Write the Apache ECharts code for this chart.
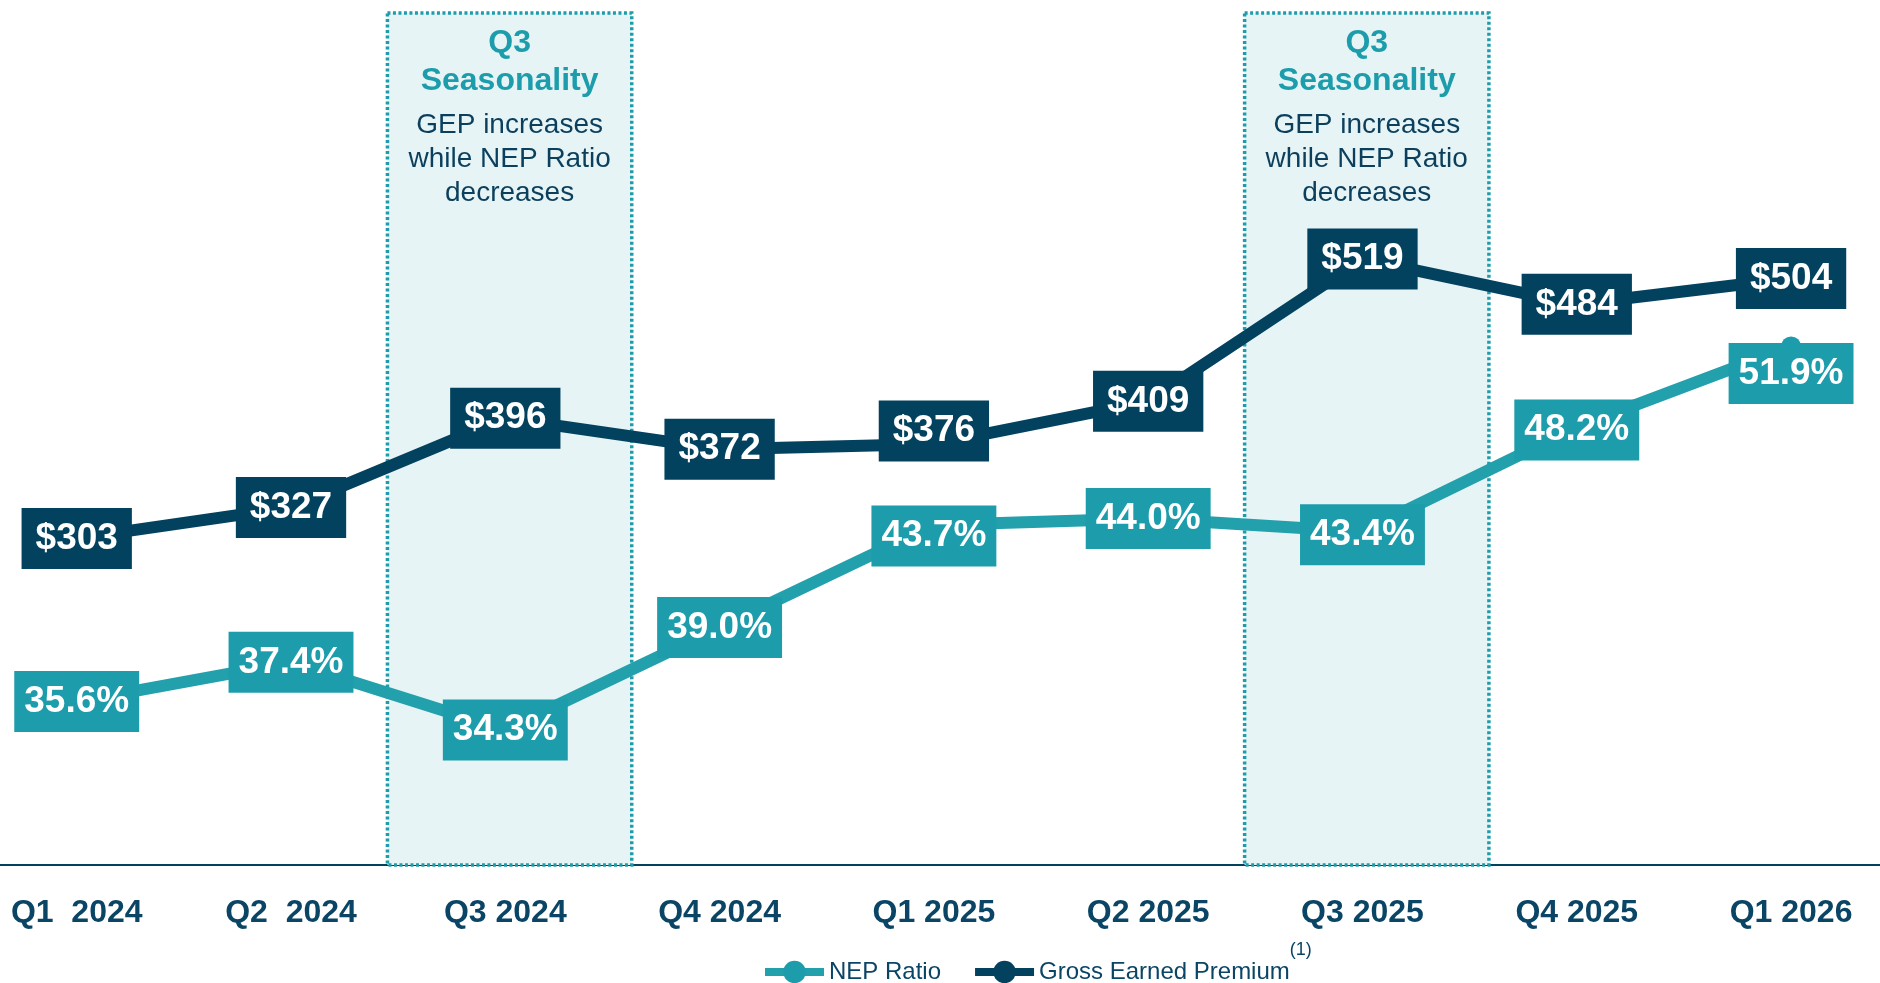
<!DOCTYPE html>
<html>
<head>
<meta charset="utf-8">
<script src="https://cdn.jsdelivr.net/npm/echarts@6/dist/echarts.min.js"></script>
<style>
  html, body { margin: 0; padding: 0; background: #fff; }
  #chart { width: 1880px; height: 983px; }
</style>
</head>
<body>
<div id="chart"></div>
<script>
var quarters = ['Q1  2024', 'Q2  2024', 'Q3 2024', 'Q4 2024', 'Q1 2025', 'Q2 2025', 'Q3 2025', 'Q4 2025', 'Q1 2026'];
var nepRatio = [35.6, 37.4, 34.3, 39.0, 43.7, 44.0, 43.4, 48.2, 51.9];
var grossEarnedPremium = [303, 327, 396, 372, 376, 409, 519, 484, 504];
var seasonalIdx = [2, 6];

var navy = '#03425f';
var teal = '#1d9dab';

// label nudges (px) so boxes sit like in the original slide
var nepNudge = { 4: 11, 6: 3, 7: 3, 8: 27 };
var gepNudge = { 4: -13 };

function pts(vals, nudge) {
  return vals.map(function (v, i) {
    var p = { value: [i, v] };
    if (nudge[i]) p.label = { offset: [0, nudge[i]] };
    return p;
  });
}

// boxes live on the NEP axis (yAxisIndex 1)
var seasonAreas = seasonalIdx.map(function (i) {
  return [
    { xAxis: i - 0.55, yAxis: 67.2 },
    { xAxis: i + 0.59, yAxis: 28.1 }
  ];
});

function init() {
  var chart = echarts.init(document.getElementById('chart'));
  var option = {
    animation: false,
    grid: { left: 0, right: 0, top: 0, bottom: 118 },
    legend: {
      data: ['NEP Ratio', 'Gross Earned Premium'],
      left: 756,
      top: 936,
      itemWidth: 59,
      itemHeight: 28,
      itemGap: 30,
      lineStyle: { width: 8 },
      textStyle: {
        fontFamily: '"Liberation Sans", Arial',
        fontSize: 24,
        color: '#0b4566',
        rich: {
          sup: { fontSize: 18, color: '#0b4566', padding: [0, 0, 44, 0], fontFamily: '"Liberation Sans", Arial' }
        }
      },
      formatter: function (name) {
        return name === 'Gross Earned Premium' ? name + '{sup|(1)}' : name;
      }
    },
    xAxis: {
      type: 'value',
      min: -0.358,
      max: 8.415,
      splitLine: { show: false },
      axisTick: { show: false },
      axisLine: { show: true, lineStyle: { color: navy, width: 2 } },
      axisLabel: {
        customValues: quarters.map(function (q, i) { return i; }),
        formatter: function (v) { return quarters[v]; },
        margin: 32,
        fontFamily: '"Liberation Sans", Arial',
        fontWeight: 'bold',
        fontSize: 32,
        color: '#0b4566'
      }
    },
    yAxis: [
      { type: 'value', min: 50.5, max: 719.3, show: false },
      { type: 'value', min: 28.1, max: 67.8, show: false }
    ],
    series: [
      {
        name: 'NEP Ratio',
        type: 'line',
        yAxisIndex: 1,
        data: pts(nepRatio, nepNudge),
        symbol: 'circle',
        symbolSize: 20,
        color: teal,
        lineStyle: { width: 12, color: '#22a0ab' },
        itemStyle: { color: teal },
        z: 3,
        label: {
          show: true,
          position: 'inside',
          formatter: function (p) { return p.value[1].toFixed(1) + '%'; },
          backgroundColor: teal,
          padding: [12, 10],
          lineHeight: 37,
          color: '#fff',
          fontFamily: '"Liberation Sans", Arial',
          fontWeight: 'bold',
          fontSize: 37
        },
        markArea: {
          silent: true,
          z: 1,
          itemStyle: {
            color: '#e6f4f6',
            borderColor: teal,
            borderWidth: 3.5,
            borderType: [3, 2.5]
          },
          label: {
            show: true,
            position: 'insideTop',
            distance: 13,
            align: 'center',
            formatter: '{t|Q3}\n{t|Seasonality}\n{g| }\n{b|GEP increases}\n{b|while NEP Ratio}\n{b|decreases}',
            rich: {
              t: { fontFamily: '"Liberation Sans", Arial', fontWeight: 'bold', fontSize: 32, lineHeight: 38, color: teal, align: 'center' },
              g: { fontSize: 1, lineHeight: 8 },
              b: { fontFamily: '"Liberation Sans", Arial', fontSize: 28, lineHeight: 34, color: '#0b3f5c', align: 'center' }
            }
          },
          data: seasonAreas
        }
      },
      {
        name: 'Gross Earned Premium',
        type: 'line',
        yAxisIndex: 0,
        data: pts(grossEarnedPremium, gepNudge),
        symbol: 'circle',
        symbolSize: 20,
        color: navy,
        lineStyle: { width: 12, color: navy },
        itemStyle: { color: navy },
        z: 3,
        label: {
          show: true,
          position: 'inside',
          formatter: function (p) { return '$' + p.value[1]; },
          backgroundColor: navy,
          padding: [12, 14],
          lineHeight: 37,
          color: '#fff',
          fontFamily: '"Liberation Sans", Arial',
          fontWeight: 'bold',
          fontSize: 37
        }
      }
    ]
  };
  chart.setOption(option);
  window.addEventListener('resize', function () {
    chart.resize();
  });
}
init();
</script>
</body>
</html>
